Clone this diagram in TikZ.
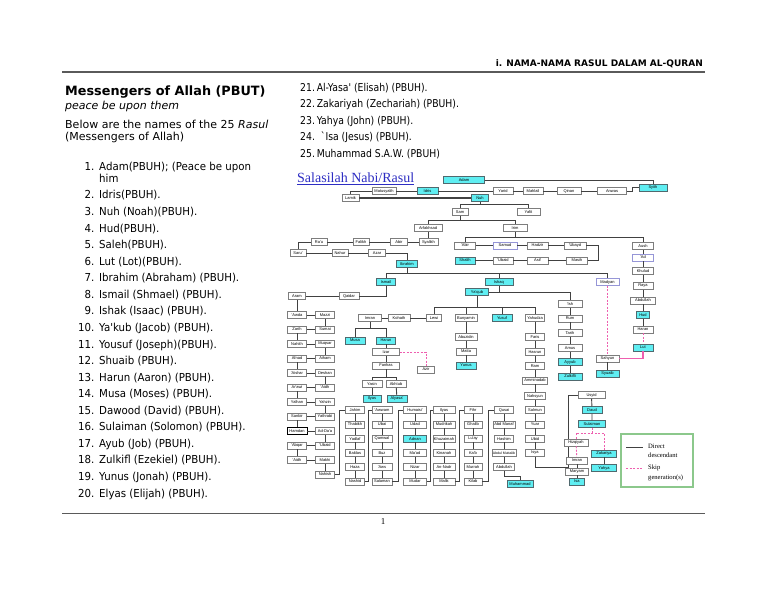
\documentclass[tikz,border=0pt]{standalone}
\usepackage{fontspec}
\setmainfont{DejaVu Sans}
\newfontfamily\mynarrow[FakeStretch=0.86]{DejaVu Sans}
\newfontfamily\mylistfam[FakeStretch=0.93]{DejaVu Sans}
\newfontfamily\myarial{Liberation Sans}
\newfontfamily\mytimes{Liberation Serif}
\usetikzlibrary{calc}
\definecolor{boxgray}{RGB}{125,125,125}
\definecolor{cyanfill}{RGB}{95,238,242}
\definecolor{cyanborder}{RGB}{80,105,110}
\definecolor{lavborder}{RGB}{150,150,215}
\definecolor{linegray}{RGB}{65,65,65}
\definecolor{pinkline}{RGB}{238,95,175}
\definecolor{legendgreen}{RGB}{140,200,140}
\definecolor{titleblue}{RGB}{45,45,195}
\definecolor{rulegray}{RGB}{90,90,90}
\newcommand\myboxfont{\myarial\fontsize{4}{4.5}\selectfont}
\newcommand\mylistfont{\mylistfam\fontsize{11}{13}\selectfont}
\newcommand\myrlfont{\mynarrow\fontsize{10.8}{13}\selectfont}
\tikzset{
  bx/.style={draw=boxgray, line width=0.5pt, fill=white, minimum height=7pt, minimum width=#1, inner sep=0.3pt, font=\myboxfont},
  bx/.default=20,
  cy/.style={bx=#1, fill=cyanfill, draw=cyanborder},
  cy/.default=20,
  lv/.style={bx=#1, draw=lavborder},
  lv/.default=20,
  ln/.style={draw=linegray, line width=0.9pt},
  lnthick/.style={draw=linegray, line width=1.5pt},
  pk/.style={draw=pinkline, line width=0.9pt, dash pattern=on 2pt off 1.5pt},
  pks/.style={draw=pinkline, line width=1.1pt},
  txt/.style={inner sep=0pt, anchor=base west},
}
\begin{document}
\begin{tikzpicture}[x=1pt,y=-1pt]
\fill[white] (0,0) rectangle (768,593);
\useasboundingbox (0,0) rectangle (768,593);

% ---------- page furniture ----------
\node[inner sep=0pt, anchor=base east, font=\bfseries\fontsize{9}{11}\selectfont] (hdr) at (703,66.3) {i. NAMA-NAMA RASUL DALAM AL-QURAN};
\draw[rulegray, line width=1.6pt] (62,72) -- (705,72);
\draw[rulegray, line width=0.8pt] (62,513) -- (705,513);
\node[inner sep=0pt, anchor=base, font=\mytimes\fontsize{9}{11}\selectfont] (pgno) at (383,524) {1};

% ---------- left column text ----------
\node[txt, font=\bfseries\fontsize{12.8}{15}\selectfont] (ttl) at (65,95.5) {Messengers of Allah (PBUT)};
\node[txt, font=\itshape\fontsize{11}{13}\selectfont] (pbut) at (65,110) {peace be upon them};
\node[txt, font=\fontsize{11}{13}\selectfont] (intro1) at (65,129) {Below are the names of the 25 \textit{Rasul}};
\node[txt, font=\fontsize{11}{13}\selectfont] (intro2) at (65,141) {(Messengers of Allah)};

\node[inner sep=0pt, anchor=base east, font=\mylistfont] (num1) at (94.5,171) {1.};
\node[txt, font=\mylistfont] (itm1) at (99,171) {Adam(PBUH); (Peace be upon};
\node[txt, font=\mylistfont] (itm1b) at (99,183) {him};
\foreach \t [count=\i from 2] in {{Idris(PBUH).},{Nuh (Noah)(PBUH).},{Hud(PBUH).},{Saleh(PBUH).},{Lut (Lot)(PBUH).},{Ibrahim (Abraham) (PBUH).},{Ismail (Shmael) (PBUH).},{Ishak (Isaac) (PBUH).},{Ya'kub (Jacob) (PBUH).},{Yousuf (Joseph)(PBUH).},{Shuaib (PBUH).},{Harun (Aaron) (PBUH).},{Musa (Moses) (PBUH).},{Dawood (David) (PBUH).},{Sulaiman (Solomon) (PBUH).},{Ayub (Job) (PBUH).},{Zulkifl (Ezekiel) (PBUH).},{Yunus (Jonah) (PBUH).},{Elyas (Elijah) (PBUH).}}{
  \node[inner sep=0pt, anchor=base east, font=\mylistfont] (num\i) at (94.5,{199+16.56*(\i-2)}) {\i.};
  \node[txt, font=\mylistfont] (itm\i) at (99,{199+16.56*(\i-2)}) {\t};
}

% ---------- right list ----------
\node[txt, font=\myrlfont] (r21) at (300,91.6) {21.\,Al-Yasa' (Elisah) (PBUH).};
\node[txt, font=\myrlfont] (r22) at (300,107.8) {22.\,Zakariyah (Zechariah) (PBUH).};
\node[txt, font=\myrlfont] (r23) at (300,124.4) {23.\,Yahya (John) (PBUH).};
\node[txt, font=\myrlfont] (r24) at (300,140.8) {24.\ \ `Isa (Jesus) (PBUH).};
\node[txt, font=\myrlfont] (r25) at (300,157.4) {25.\,Muhammad S.A.W. (PBUH)};

% ---------- tree title ----------
\node[txt, font=\mytimes\fontsize{14}{16}\selectfont, text=titleblue] (salasilah) at (297,183) {Salasilah Nabi/Rasul};
\draw[titleblue, line width=0.7pt] ([yshift=-1.6pt]salasilah.base west) -- ([yshift=-1.6pt]salasilah.base east);

% ---------- top chain ----------
\node[cy=41] (adam) at (464,180) {Adam};
\node[cy=28] (syith) at (653,187.5) {Syith};
\node[bx=29] (anwas) at (612,191) {Anwas};
\node[bx=24] (qinan) at (569,191) {Qinan};
\node[bx=20] (mahlail) at (533,191) {Mahlail};
\node[bx=20] (yarid) at (503,191) {Yarid};
\node[cy=21] (idris) at (427.5,191) {Idris};
\node[bx=24] (matus) at (384,191) {Matusyalih};
\node[bx=17] (lamik) at (350.5,198) {Lamik};
\node[cy=17] (nuh) at (480,198) {Nuh};
\draw[ln] (adam.east) -| (syith.north);
\draw[ln] (syith.west) -- ++(-6,0) |- (anwas.east);
\draw[ln] (anwas) -- (qinan) -- (mahlail) -- (yarid) -- (idris) -- (matus);
\draw[ln] (matus.west) -| (lamik.north);
\draw[lnthick] (lamik) -- (nuh);

\node[bx=16] (sam) at (460,212) {Sam};
\node[bx=23] (yafit) at (528.5,212) {Yafit};
\draw[ln] (nuh.south) -- (480,204);
\draw[ln] (sam.north) -- (460,204) -- (528.5,204) -- (yafit.north);

\node[bx=28] (arfa) at (428,228) {Arfakhsad};
\node[bx=24] (irim) at (515,228) {Irim};
\draw[ln] (sam.south) -- (460,220);
\draw[ln] (arfa.north) -- (428,220) -- (515,220) -- (irim.north);

% ---------- Arfakhsad to Ibrahim ----------
\node[bx=19] (syalikh) at (428.5,242) {Syalikh};
\node[bx=17] (abir) at (399,242) {Abir};
\node[bx=16] (falikh) at (361,242) {Falikh};
\node[bx=16] (rau) at (319,242) {Ra'u};
\node[bx=16] (saru) at (298,253) {Saru'};
\node[bx=16] (nahur) at (340,253) {Nahur};
\node[bx=17] (azar) at (377,253) {Azar};
\node[cy=21] (ibrahim) at (407,264) {Ibrahim};
\draw[ln] (arfa.south -| syalikh) -- (syalikh.north);
\draw[ln] (syalikh) -- (abir) -- (falikh) -- (rau);
\draw[ln] (rau.west) -| (saru.north);
\draw[ln] (saru) -- (nahur) -- (azar);
\draw[ln] (azar.east) -| (ibrahim.north);

% ---------- Irim branch ----------
\node[bx=21] (abirb) at (465,245.5) {'Abir};
\node[lv=24] (samud) at (505,245.5) {Samud};
\node[bx=21] (hadzir) at (537.5,245.5) {Hadzir};
\node[bx=22] (ubayd) at (575,245.5) {'Ubayd};
\node[cy=20] (shalih) at (465,260.5) {Shalih};
\node[bx=20] (ubaidb) at (503,260.5) {'Ubaid};
\node[bx=21] (asif) at (537.5,260.5) {Asif};
\node[bx=21] (masih) at (577,260.5) {Masih};
\node[bx=21] (aush) at (643,246) {Aush};
\draw[ln] (irim.south) -- (515,237);
\draw[ln] (abirb.north) -- (465,237) -- (643,237) -- (aush.north);
\draw[ln] (abirb) -- (samud) -- (hadzir) -- (ubayd);
\draw[ln] (ubayd.east) -- (598,245.5) |- (masih.east);
\draw[ln] (masih) -- (asif) -- (ubaidb) -- (shalih);

% ---------- Hud / Lut column ----------
\node[lv=21] (ad) at (643,257.5) {'Ad};
\node[bx=21] (khulud) at (643,271) {Khulud};
\node[bx=20] (raya) at (643,286) {Raya};
\node[bx=25] (abdullahb) at (643,300.5) {Abdullah};
\node[cy=13] (hud) at (643,315) {Hud};
\node[bx=20] (haran) at (643,329.5) {Haran};
\node[cy=20] (lut) at (643,347.5) {Lut};
\draw[ln] (aush) -- (ad) -- (khulud) -- (raya) -- (abdullahb) -- (hud) -- (haran);
\draw[pk] (haran) -- (lut);

% ---------- Ibrahim's sons ----------
\node[cy=19] (ismail) at (386,282) {Ismail};
\node[cy=28] (ishaq) at (499,282) {Ishaq};
\node[lv=23] (madyan) at (607.5,282) {Madyan};
\draw[ln] (ibrahim.south) -- (407,273);
\draw[ln] (ismail.north) -- (386,273) -- (607.5,273) -- (madyan.north);
\draw[ln] (ishaq.north) -- (499,273);

\node[bx=23] (sahyun) at (607.5,358.5) {Sahyun};
\node[cy=23] (syuaib) at (607.5,373.3) {Syuaib};
\draw[pk] (madyan) -- (sahyun);
\draw[ln] (sahyun) -- (syuaib);
\draw[pks] (lut.south) |- (sahyun.east);

% ---------- Ishaq line ----------
\node[cy=23] (yaqub) at (477,292) {Ya'qub};
\node[bx=24] (ish) at (570,304) {'Ish};
\node[bx=24] (rum) at (570,318.5) {Rum};
\node[bx=24] (tarih) at (570,333) {Tarih};
\node[bx=24] (amus) at (570,348) {Amus};
\node[cy=24] (ayub) at (570,362) {Ayyub};
\node[cy=24] (zulkifli) at (570,376.5) {Zulkifli};
\draw[ln] (ishaq.south) -- (ishaq.south |- yaqub.east);
\draw[ln] (yaqub.east) -| (ish.north);
\draw[ln] (ish) -- (rum) -- (tarih) -- (amus) -- (ayub) -- (zulkifli);

\node[bx=15] (lewi) at (434,318) {Lewi};
\node[bx=22] (bunyamin) at (466,318) {Bunyamin};
\node[cy=20] (yusuf) at (502,318) {Yusuf};
\node[bx=19] (yahudza) at (535,318) {Yahudza};
\draw[ln] (yaqub.south) -- (477,307);
\draw[ln] (lewi.north) -- (434,307) -- (535,307) -- (yahudza.north);
\draw[ln] (bunyamin.north) -- (466,307);
\draw[ln] (yusuf.north) -- (502,307);

\node[bx=22] (abuzidin) at (466,337) {Abuzidin};
\node[bx=20] (matta) at (466,351.5) {Matta};
\node[cy=20] (yunus) at (466,365.5) {Yunus};
\draw[ln] (bunyamin) -- (abuzidin) -- (matta) -- (yunus);

% ---------- Musa / Harun ----------
\node[bx=22] (kohath) at (399,318) {Kohath};
\node[bx=23] (imran) at (370,318) {Imran};
\draw[ln] (lewi) -- (kohath) -- (imran);
\node[cy=20] (musa) at (355,340.5) {Musa};
\node[cy=19] (harun) at (386,340.5) {Harun};
\draw[ln] (imran.south) -- (370,328);
\draw[ln] (musa.north) -- (355,328) -- (386,328) -- (harun.north);
\node[bx=27] (izar) at (386,352) {Izar};
\node[bx=27] (fanhas) at (386,365.5) {Fanhas};
\node[bx=17] (azir) at (426,369.5) {Azir};
\draw[ln] (harun) -- (izar) -- (fanhas);
\draw[pk] (izar.east) -| (azir.north);
\node[bx=20] (yasin) at (372,384) {Yasin};
\node[bx=20] (akhtub) at (396,384) {Akhtub};
\node[cy=18] (ilyas) at (372,398.5) {Ilyas};
\node[cy=20] (alyasa) at (397,398.5) {Alyasa'};
\draw[ln] (fanhas.south) -- (386,377);
\draw[ln] (yasin.north) -- (372,377) -- (396,377) -- (akhtub.north);
\draw[ln] (yasin) -- (ilyas);
\draw[ln] (akhtub) -- (alyasa);

% ---------- Ismail line (zigzag) ----------
\node[bx=20] (qaidar) at (349,296) {Qaidar};
\node[bx=17] (aram) at (297,296) {Aram};
\draw[ln] (ismail.south) |- (qaidar.east);
\draw[ln] (qaidar) -- (aram);
\node[bx=19] (awda) at (297,315) {'Awda};
\node[bx=19] (mazzi) at (325,315) {Mazzi};
\node[bx=19] (sumai) at (325,329.5) {Sumai};
\node[bx=19] (zarih) at (297,329.5) {Zarih};
\node[bx=19] (nahith) at (297,344) {Nahith};
\node[bx=19] (muqsar) at (325,344) {Muqsar};
\node[bx=19] (aiham) at (325,358.5) {Aiham};
\node[bx=19] (afnad) at (297,358.5) {Afnad};
\node[bx=19] (aishar) at (297,373) {'Aishar};
\node[bx=19] (deshan) at (325,373) {Deshan};
\node[bx=19] (aidh) at (325,387.5) {'Aidh};
\node[bx=19] (arawi) at (297,387.5) {Ar'awi};
\node[bx=19] (yalhan) at (297,402) {Yalhan};
\node[bx=19] (yahzin) at (325,402) {Yahzin};
\node[bx=19] (yathrabi) at (325,416.5) {Yathrabi};
\node[bx=19] (sanbir) at (297,416.5) {Sanbir};
\node[bx=20, draw=black] (hamdan) at (297,431) {Hamdan};
\node[bx=19] (adda) at (325,431) {Ad-Da'a};
\node[bx=19] (ubaid) at (325,445.5) {'Ubaid};
\node[bx=19] (abqar) at (297,445.5) {'Abqar};
\node[bx=19] (aidhb) at (297,460) {'Aidh};
\node[bx=19] (makhi) at (325,460) {Makhi};
\node[bx=19] (nahish) at (325,474.5) {Nahish};
\draw[ln] (aram) -- (awda) -- (mazzi) -- (sumai) -- (zarih) -- (nahith) -- (muqsar) -- (aiham) -- (afnad) -- (aishar) -- (deshan) -- (aidh) -- (arawi) -- (yalhan) -- (yahzin) -- (yathrabi) -- (sanbir) -- (hamdan) -- (adda) -- (ubaid) -- (abqar) -- (aidhb) -- (makhi) -- (nahish);

% ---------- columns to Muhammad ----------
\foreach \nm/\tx [count=\k from 0] in {jahim/Jahim,tabikh/Thabikh,yadlaf/Yadlaf,baldas/Baldas,haza/Haza,nashid/Nashid}
  \node[bx=19] (\nm) at (355,{410+14.3*\k}) {\tx};
\foreach \nm/\tx [count=\k from 0] in {awwam/'Awwam,ubai/Ubai,qamwal/Qamwal,buz/Buz,aws/'Aws,salaman/Salaman}
  \node[bx=20] (\nm) at (382,{410+14.3*\k}) {\tx};
\node[bx=23] (humaisi) at (415,410) {Humaisi'};
\node[bx=23] (udad) at (415,424.3) {Udad};
\node[cy=23] (adnan) at (415,438.6) {Adnan};
\node[bx=23] (maad) at (415,452.9) {Ma'ad};
\node[bx=23] (nizar) at (415,467.2) {Nizar};
\node[bx=23] (mudar) at (415,481.5) {Mudar};
\foreach \nm/\tx [count=\k from 0] in {ilyasb/Ilyas,mudrikah/Mudrikah,khuzaimah/Khuzaimah,kinanah/Kinanah,nadr/An-Nadr,malik/Malik}
  \node[bx=22] (\nm) at (444,{410+14.3*\k}) {\tx};
\foreach \nm/\tx [count=\k from 0] in {fihr/Fihr,ghalib/Ghalib,luay/Lu'ay,kab/Ka'b,murrah/Murrah,kilab/Kilab}
  \node[bx=18] (\nm) at (473,{410+14.3*\k}) {\tx};
\node[bx=19] (qusai) at (504,410) {Qusai};
\node[bx=22] (manaf) at (504,424.3) {Abd Manaf};
\node[bx=19] (hashim) at (504,438.6) {Hashim};
\node[bx=24, font=\myarial\fontsize{3.5}{4}\selectfont] (muttalib) at (504,452.9) {Abdul Muttalib};
\node[bx=21] (abdullah) at (504,467.2) {Abdullah};
\node[cy=26] (muhammad) at (520,484) {Muhammad};

\draw[ln] (nahish.east) -- ++(5,0) |- (jahim.west);
\draw[ln] (jahim) -- (tabikh) -- (yadlaf) -- (baldas) -- (haza) -- (nashid);
\draw[ln] (nashid.east) -- ++(4,0) |- (awwam.west);
\draw[ln] (awwam) -- (ubai) -- (qamwal) -- (buz) -- (aws) -- (salaman);
\draw[ln] (salaman.east) -- ++(6,0) |- (humaisi.west);
\draw[ln] (humaisi) -- (udad) -- (adnan) -- (maad) -- (nizar) -- (mudar);
\draw[ln] (mudar.east) -- ++(3.5,0) |- (ilyasb.west);
\draw[ln] (ilyasb) -- (mudrikah) -- (khuzaimah) -- (kinanah) -- (nadr) -- (malik);
\draw[ln] (malik.east) -- ++(4.5,0) |- (fihr.west);
\draw[ln] (fihr) -- (ghalib) -- (luay) -- (kab) -- (murrah) -- (kilab);
\draw[ln] (kilab.east) -- ++(6,0) |- (qusai.west);
\draw[ln] (qusai) -- (manaf) -- (hashim) -- (muttalib) -- (abdullah);
\draw[ln] (abdullah.south) -- ++(0,5) -| (muhammad.north);

% ---------- Yahudza line to Daud ----------
\node[bx=19] (faris) at (535,337) {Faris};
\node[bx=19] (hasrun) at (535,352) {Hasrun};
\node[bx=19] (ram) at (535,366) {Ram};
\node[bx=25] (amminadab) at (535,380.5) {Amminadab};
\node[bx=21] (nahsyun) at (535,396) {Nahsyun};
\node[bx=19] (salmun) at (535,410) {Salmun};
\node[bx=19] (yuar) at (535,424.3) {Yuar};
\node[bx=19] (ubid) at (535,438.6) {Ubid};
\node[bx=19] (isya) at (535,452.9) {Isya};
\draw[ln] (yahudza) -- (faris) -- (hasrun) -- (ram) -- (amminadab) -- (nahsyun) -- (salmun) -- (yuar) -- (ubid) -- (isya);
\node[bx=27] (usyid) at (591.5,395) {Usyid};
\node[cy=20] (daud) at (592,410) {Daud};
\node[cy=27] (sulaiman) at (592,424) {Sulaiman};
\draw[ln] (isya.south) -- (535,467) -- (568,467) |- (usyid.west);
\draw[ln] (usyid) -- (daud) -- (sulaiman);

\node[bx=24] (hizqiyah) at (576,442.5) {Hizqiyah};
\node[cy=25] (zakariya) at (604,453.5) {Zakariya};
\node[cy=25] (yahya) at (604,468) {Yahya};
\node[bx=21] (imranb) at (577,460.5) {Imran};
\node[bx=23] (maryam) at (577,471.5) {Maryam};
\node[cy=15] (isa) at (577,481.5) {Isa};
\draw[pk] (sulaiman.south) -- (592,433);
\draw[pk] (hizqiyah.north) -- (576,433) -- (604,433) -- (zakariya.north);
\draw[ln] (zakariya) -- (yahya);
\draw[pk] (hizqiyah) -- (imranb);
\draw[ln] (imranb) -- (maryam) -- (isa);

% ---------- legend ----------
\draw[draw=legendgreen, line width=1.3pt, fill=white] (621,434) rectangle (693,487);
\coordinate (lga) at (626,447);
\coordinate (lgb) at (643,447);
\coordinate (lgc) at (626,468);
\coordinate (lgd) at (643,468);
\draw[draw=linegray, line width=1pt] (lga) -- (lgb);
\draw[pk, line width=1pt] (lgc) -- (lgd);
\node[txt, font=\mytimes\fontsize{6.6}{7}\selectfont] (lg1) at (648,448) {Direct};
\node[txt, font=\mytimes\fontsize{6.6}{7}\selectfont] (lg2) at (648,457) {descendant};
\node[txt, font=\mytimes\fontsize{6.6}{7}\selectfont] (lg3) at (648,469.5) {Skip};
\node[txt, font=\mytimes\fontsize{6.6}{7}\selectfont] (lg4) at (648,479.5) {generation(s)};
\end{tikzpicture}
\end{document}
